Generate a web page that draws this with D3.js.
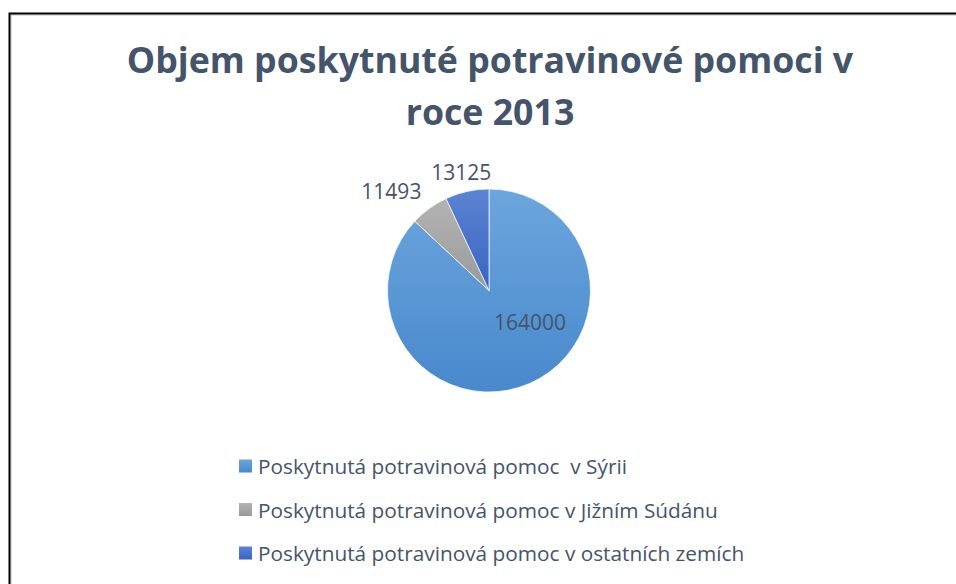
<!DOCTYPE html>
<html>
<head>
<meta charset="utf-8">
<script src="https://cdn.jsdelivr.net/npm/d3@7"></script>
<style>
  body { margin: 0; background: #fff; }
  text { font-family: "Open Sans", Lato, sans-serif; fill: #44546a; }
</style>
</head>
<body>
<div id="chart"></div>
<script>
// data
const categories = [
    "Poskytnutá potravinová pomoc  v Sýrii",
    "Poskytnutá potravinová pomoc v Jižním Súdánu",
    "Poskytnutá potravinová pomoc v ostatních zemích"
];
const values = [164000, 11493, 13125];
const titleLines = ["Objem poskytnuté potravinové pomoci v", "roce 2013"];

const colorsTop = ["#6ba6dd", "#b3b3b3", "#5b84d3"];
const colorsBottom = ["#4888cc", "#9a9a9a", "#3a63c0"];

const width = 956, height = 584;
const cx = 489, cy = 290.5, radius = 101.5;

const svg = d3.select("#chart").append("svg")
    .attr("width", width)
    .attr("height", height);

// chart frame (only left and top edges are in view)
svg.append("path")
    .attr("d", `M11,${height} V15 H${width}`)
    .attr("fill", "none")
    .attr("stroke", "#bdbdbd")
    .attr("stroke-width", 1);
svg.append("path")
    .attr("d", `M9.5,${height} V13.5 H${width}`)
    .attr("fill", "none")
    .attr("stroke", "#000")
    .attr("stroke-width", 2);

// title
svg.append("text")
    .attr("text-anchor", "middle")
    .attr("font-weight", "bold")
    .attr("font-size", 35.7)
    .selectAll("tspan")
    .data(titleLines)
    .join("tspan")
    .attr("x", 490)
    .attr("y", (d, i) => 73 + i * 52)
    .text(d => d);

// gradients
let defs = svg.append("defs");
values.forEach((v, i) => {
    let g = defs.append("linearGradient")
        .attr("id", "grad" + i)
        .attr("x1", 0).attr("y1", 0).attr("x2", 0).attr("y2", 1);
    g.append("stop").attr("offset", "0%").attr("stop-color", colorsTop[i]);
    g.append("stop").attr("offset", "100%").attr("stop-color", colorsBottom[i]);
});

let pie = d3.pie().sort(null).value(d => d);
let arcs = pie(values);
let arc = d3.arc().innerRadius(0).outerRadius(radius);

let g = svg.append("g").attr("transform", `translate(${cx},${cy})`);

g.selectAll("path")
    .data(arcs)
    .join("path")
    .attr("d", arc)
    .attr("fill", (d, i) => `url(#grad${i})`)
    .attr("stroke", "#fff")
    .attr("stroke-width", 0.7);

// data labels (Excel best-fit placement: angle, radius factor)
const labelPlace = [
    {angle: 127.5, r: 0.51},
    {angle: 315.4, r: 1.37},
    {angle: 346.8, r: 1.2}
];
g.selectAll("text.lbl")
    .data(arcs)
    .join("text")
    .attr("class", "lbl")
    .attr("font-size", 21)
    .attr("text-anchor", "middle")
    .attr("dominant-baseline", "central")
    .attr("transform", (d, i) => {
        let p = d3.pointRadial(labelPlace[i].angle * Math.PI / 180, radius * labelPlace[i].r);
        return `translate(${p[0]},${p[1]})`;
    })
    .text(d => d.data);

// legend
let legend = svg.append("g").attr("transform", "translate(239,466)");
let item = legend.selectAll("g")
    .data(categories)
    .join("g")
    .attr("transform", (d, i) => `translate(0,${i * 43.5})`);
item.append("rect")
    .attr("x", 0).attr("y", -6.5)
    .attr("width", 13).attr("height", 13)
    .attr("fill", (d, i) => `url(#grad${i})`);
item.append("text")
    .attr("x", 19)
    .attr("y", 0)
    .attr("dominant-baseline", "central")
    .attr("font-size", 20.8)
    .attr("xml:space", "preserve")
    .style("white-space", "pre")
    .text(d => d);
</script>
</body>
</html>
